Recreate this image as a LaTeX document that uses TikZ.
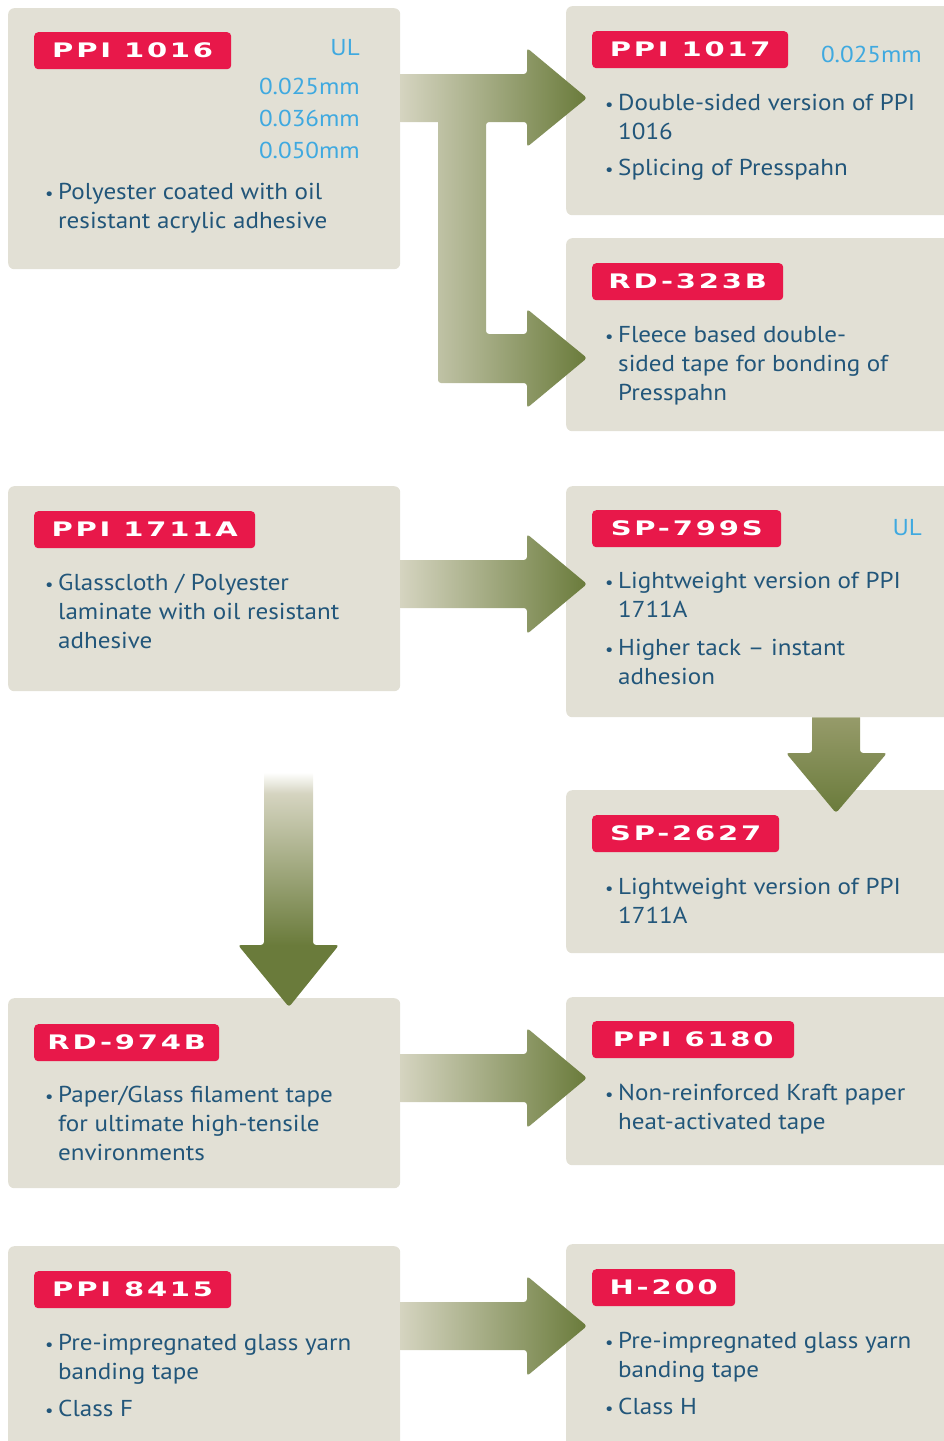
\documentclass[tikz,border=0pt]{standalone}
\usepackage{fontspec}
\setmainfont{PT Sans}[FakeStretch=1.09]
\newfontfamily\labfont{DejaVu Sans Bold}[FakeStretch=1.45,LetterSpace=14]
\usetikzlibrary{calc}
\definecolor{boxfill}{RGB}{226,224,213}
\definecolor{labred}{RGB}{232,24,74}
\definecolor{bodyblue}{RGB}{34,86,122}
\definecolor{dimblue}{RGB}{63,169,224}
\definecolor{olL}{RGB}{213,212,192}
\definecolor{olM}{RGB}{150,155,106}
\definecolor{olD}{RGB}{106,123,59}
\pgfdeclareverticalshading{fadedown}{100bp}{color(0bp)=(olD); color(38bp)=(olD); color(70bp)=(olL); color(74.5bp)=(white); color(100bp)=(white)}
\newcommand\bodyfont{\fontsize{23}{29}\selectfont}
\newcommand\btxt[4]{\node[bul] (#1b) at (#2-13,#3) {•};\node[txt] (#1) at (#2,#3) {#4};}
\newcommand\ctxt[4]{\node[txt] (#1) at (#2,#3) {#4};}
\newcommand\rarrow[3]{% name, source node, centre y
  \shade[left color=olL, right color=olD] (#2.east |- 0,#3-24) coordinate (#1s) [rounded corners=3pt] -- (527,#3-24) -- (527,#3-50) -- (587,#3) coordinate (#1t) -- (527,#3+50) -- (527,#3+24) [sharp corners] -- (#2.east |- 0,#3+24) -- cycle;}
\tikzset{
  box/.style={fill=boxfill, rounded corners=6pt, draw=none, anchor=north west, inner sep=0pt},
  lab/.style={fill=labred, rounded corners=4pt, text=white, font=\labfont\fontsize{20}{20}\selectfont, anchor=north west, minimum height=37pt, inner xsep=0pt, inner ysep=0pt},
  txt/.style={anchor=base west, inner sep=0pt, text=bodyblue, font=\bodyfont},
  bul/.style={anchor=base west, inner sep=0pt, text=bodyblue, font=\fontsize{17}{17}\selectfont},
  dim/.style={anchor=base east, inner sep=0pt, text=dimblue, font=\bodyfont}
}
\begin{document}
\begin{tikzpicture}[x=1pt,y=-1pt]
\useasboundingbox (0,0) rectangle (944,1441);
% boxes
\node[box, minimum width=392pt, minimum height=261pt] (b1) at (8,8) {};
\node[box, minimum width=400pt, minimum height=209pt] (b2) at (566,6) {};
\node[box, minimum width=400pt, minimum height=193pt] (b3) at (566,238) {};
\node[box, minimum width=392pt, minimum height=205pt] (b4) at (8,486) {};
\node[box, minimum width=400pt, minimum height=231pt] (b5) at (566,486) {};
\node[box, minimum width=400pt, minimum height=163pt] (b6) at (566,790) {};
\node[box, minimum width=392pt, minimum height=190pt] (b7) at (8,998) {};
\node[box, minimum width=400pt, minimum height=168pt] (b8) at (566,997) {};
\node[box, minimum width=392pt, minimum height=220pt] (b9) at (8,1246) {};
\node[box, minimum width=400pt, minimum height=220pt] (b10) at (566,1244) {};
% labels
\node[lab, minimum width=197pt] (l1) at (34,32) {PPI 1016};
\node[lab, minimum width=196pt] (l2) at (592,31) {PPI 1017};
\node[lab, minimum width=191pt] (l3) at (592,263) {RD-323B};
\node[lab, minimum width=221pt] (l4) at (34,511) {PPI 1711A};
\node[lab, minimum width=189pt] (l5) at (592,510) {SP-799S};
\node[lab, minimum width=187pt] (l6) at (592,815) {SP-2627};
\node[lab, minimum width=185pt] (l7) at (34,1024) {RD-974B};
\node[lab, minimum width=202pt] (l8) at (592,1021) {PPI 6180};
\node[lab, minimum width=197pt] (l9) at (34,1271) {PPI 8415};
\node[lab, minimum width=143pt] (l10) at (592,1269) {H-200};
% dimensions
\node[dim] (d1) at (360,55) {UL};
\node[dim] (d2) at (360,94) {0.025mm};
\node[dim] (d3) at (360,126) {0.036mm};
\node[dim] (d4) at (360,158) {0.050mm};
\node[dim] (d5) at (922,62) {0.025mm};
\node[dim] (d6) at (922,535) {UL};
% texts
\btxt{t1a}{58}{199}{Polyester coated with oil}
\ctxt{t1b}{58}{228}{resistant acrylic adhesive}
\btxt{t2a}{618}{110}{Double-sided version of PPI}
\ctxt{t2b}{618}{139}{1016}
\btxt{t2c}{618}{175}{Splicing of Presspahn}
\btxt{t3a}{618}{342}{Fleece based double-}
\ctxt{t3b}{618}{371}{sided tape for bonding of}
\ctxt{t3c}{618}{400}{Presspahn}
\btxt{t4a}{58}{590}{Glasscloth / Polyester}
\ctxt{t4b}{58}{619}{laminate with oil resistant}
\ctxt{t4c}{58}{648}{adhesive}
\btxt{t5a}{618}{588}{Lightweight version of PPI}
\ctxt{t5b}{618}{617}{1711A}
\btxt{t5c}{618}{655}{Higher tack – instant}
\ctxt{t5d}{618}{684}{adhesion}
\btxt{t6a}{618}{894}{Lightweight version of PPI}
\ctxt{t6b}{618}{923}{1711A}
\btxt{t7a}{58}{1102}{Paper/Glass filament tape}
\ctxt{t7b}{58}{1131}{for ultimate high-tensile}
\ctxt{t7c}{58}{1160}{environments}
\btxt{t8a}{618}{1100}{Non-reinforced Kraft paper}
\ctxt{t8b}{618}{1129}{heat-activated tape}
\btxt{t9a}{58}{1350}{Pre-impregnated glass yarn}
\ctxt{t9b}{58}{1379}{banding tape}
\btxt{t9c}{58}{1416}{Class F}
\btxt{t10a}{618}{1348}{Pre-impregnated glass yarn}
\ctxt{t10b}{618}{1377}{banding tape}
\btxt{t10c}{618}{1414}{Class H}
% T arrow from b1 to b2 and b3
\shade[left color=olL, right color=olD] (b1.east |- 0,74) coordinate (a1s) [rounded corners=3pt] -- (527,74) -- (527,48) -- (587,98) coordinate (a1t) -- (527,147) -- (527,122) -- (486,122) -- (486,334) -- (527,334) -- (527,309) -- (587,358) coordinate (a2t) -- (527,408) -- (527,383) -- (438,383) [sharp corners] -- (438,122) -- (b1.east |- 0,122) -- cycle;
% straight arrows
\rarrow{a3}{b4}{584}
\rarrow{a4}{b7}{1078}
\rarrow{a5}{b9}{1326}
% down arrow b5 -> b6
\shade[top color=olM, bottom color=olD] (812,0 |- b5.south) coordinate (a6s) [rounded corners=3pt] -- (812,753) -- (786,753) -- (836,813) coordinate (a6t) -- (887,753) -- (860,753) [sharp corners] -- (860,0 |- b5.south) -- cycle;
% long down arrow into b7
\shade[shading=fadedown] (264,770) coordinate (a7s) [rounded corners=3pt] -- (264,945) -- (238,945) -- (289,1007) coordinate (a7t) -- (339,945) -- (313,945) [sharp corners] -- (313,770) -- cycle;
\end{tikzpicture}
\end{document}
